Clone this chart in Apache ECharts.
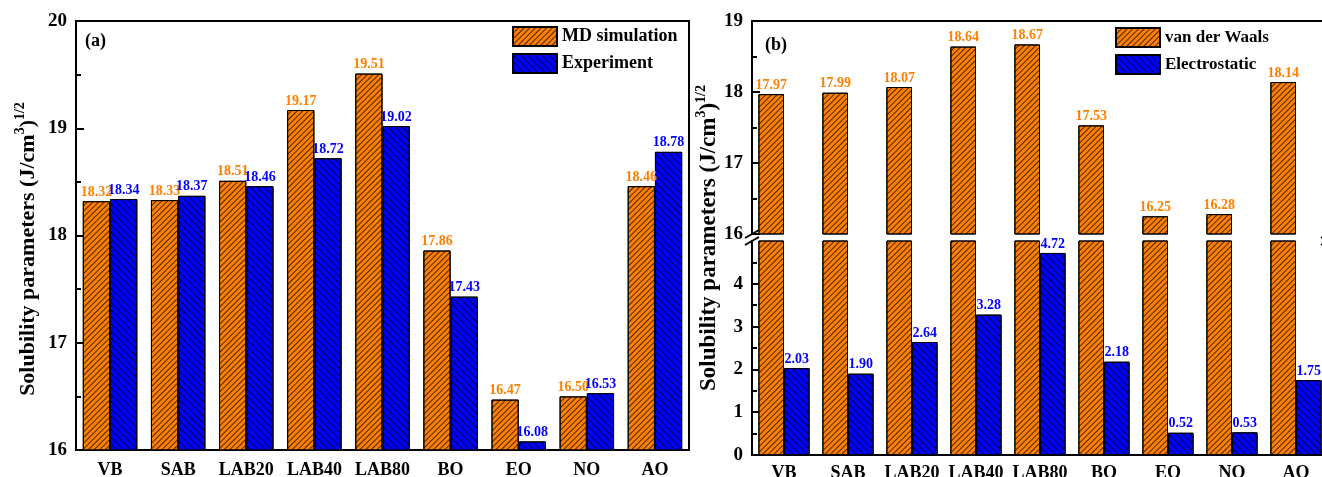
<!DOCTYPE html>
<html><head><meta charset="utf-8">
<script src="https://cdn.jsdelivr.net/npm/echarts@6/dist/echarts.min.js"></script>
<style>html,body{margin:0;padding:0;background:#fff}#c{width:1322px;height:477px}</style>
</head><body><div id="c"></div>
<script>
// ---------- data ----------
const categories = ['VB', 'SAB', 'LAB20', 'LAB40', 'LAB80', 'BO', 'EO', 'NO', 'AO'];
const mdSimulation = [18.32, 18.33, 18.51, 19.17, 19.51, 17.86, 16.47, 16.50, 18.46];
const experiment = [18.34, 18.37, 18.46, 18.72, 19.02, 17.43, 16.08, 16.53, 18.78];
const vanDerWaals = [17.97, 17.99, 18.07, 18.64, 18.67, 17.53, 16.25, 16.28, 18.14];
const electrostatic = [2.03, 1.90, 2.64, 3.28, 4.72, 2.18, 0.52, 0.53, 1.75];
const seriesNamesA = ['MD simulation', 'Experiment'];
const seriesNamesB = ['van der Waals', 'Electrostatic'];
const yRangeA = [16, 20];
const yRangeBTop = [16, 19];
const yRangeBBottom = [0, 5];
const yTickLabelsBBottom = [0, 1, 2, 3, 4];
const panelTitles = ['(a)', '(b)'];
const yName = 'Solubility parameters (J/cm{s|3}){s|1/2}';

// ---------- styles ----------
const FONT = 'Liberation Serif';
const ORANGE = '#FF8000';
const BLUE = '#0000FF';
const decalOrange = {symbol: 'rect', symbolSize: 1, dashArrayX: [1, 0], dashArrayY: [1, 3], rotation: -Math.PI / 4, color: 'rgba(0,0,0,0.7)'};
const decalBlue = {symbol: 'rect', symbolSize: 1, dashArrayX: [1, 0], dashArrayY: [1, 4], rotation: Math.PI / 4, color: 'rgba(0,0,0,0.7)'};
const axisLineStyle = {show: true, onZero: false, lineStyle: {color: '#000', width: 2}};

function nameStyle(size, padRight) {
  return {fontFamily: FONT, fontWeight: 'bold', fontSize: size, color: '#000', lineHeight: 30, padding: [0, padRight, 0, 0],
    rich: {s: {fontFamily: FONT, fontWeight: 'bold', fontSize: Math.round(size * 0.62), color: '#000', lineHeight: 13, verticalAlign: 'top'}}};
}
function valueAxis(gridIndex, range, extra) {
  return Object.assign({
    type: 'value', gridIndex, min: range[0], max: range[1], interval: 1,
    axisLine: axisLineStyle,
    axisTick: {show: true, inside: true, length: 8, lineStyle: {color: '#000', width: 2}},
    minorTick: {show: true, splitNumber: 2, length: 5, lineStyle: {color: '#000', width: 2}},
    splitLine: {show: false},
    axisLabel: {fontFamily: FONT, fontWeight: 'bold', fontSize: 19, color: '#000', margin: 9}
  }, extra || {});
}
function catAxis(gridIndex, margin, extra) {
  return Object.assign({
    type: 'category', gridIndex, data: categories,
    axisLine: axisLineStyle, axisTick: {show: false},
    axisLabel: {interval: 0, fontFamily: FONT, fontWeight: 'bold', fontSize: 18, color: '#000', margin}
  }, extra || {});
}
function bar(name, data, color, decal, axisIdx, showLabel) {
  return {
    type: 'bar', name, data, xAxisIndex: axisIdx, yAxisIndex: axisIdx,
    barGap: '0%', barCategoryGap: '20%', clip: true,
    itemStyle: {color, borderColor: '#000', borderWidth: 1, decal},
    label: {show: showLabel, position: 'top', distance: 2, color, fontFamily: FONT, fontWeight: 'bold', fontSize: 14,
      formatter: p => Number(p.value).toFixed(2)},
    emphasis: {disabled: true}
  };
}
function legendBase(size) {
  return {orient: 'vertical', icon: 'rect', itemWidth: 44, itemHeight: 19, itemGap: 6, align: 'left', padding: 0,
    textStyle: {fontFamily: FONT, fontWeight: 'bold', fontSize: size, color: '#000'}};
}
function grid(left, top, width, height, extra) {
  return Object.assign({left, top, width, height, containLabel: false, outerBoundsMode: 'none'}, extra || {});
}

const chart = echarts.init(document.getElementById('c'), null, {renderer: 'canvas'});
chart.setOption({
  animation: false,
  backgroundColor: '#fff',
  title: [
    {text: panelTitles[0], left: 85, top: 32, padding: 0, textStyle: {fontFamily: FONT, fontWeight: 'bold', fontSize: 18, color: '#000'}},
    {text: panelTitles[1], left: 765, top: 36, padding: 0, textStyle: {fontFamily: FONT, fontWeight: 'bold', fontSize: 18, color: '#000'}}
  ],
  legend: [
    Object.assign({data: seriesNamesA, left: 512, top: 26}, legendBase(18)),
    Object.assign({data: seriesNamesB, left: 1115, top: 27}, legendBase(17))
  ],
  grid: [
    grid(76, 21, 613, 429, {show: true, borderColor: '#000', borderWidth: 2}),
    grid(752, 21, 576, 213),
    grid(752, 241, 576, 214),
    grid(752, 21, 576, 434)
  ],
  xAxis: [
    catAxis(0, 11),
    catAxis(1, 10, {position: 'top', axisLabel: {show: false}}),
    catAxis(2, 9),
    catAxis(3, 10, {show: false})
  ],
  yAxis: [
    valueAxis(0, yRangeA, {name: yName, nameLocation: 'middle', nameGap: 33, nameTextStyle: nameStyle(22, 27)}),
    valueAxis(1, yRangeBTop),
    valueAxis(2, yRangeBBottom, {
      axisLabel: {fontFamily: FONT, fontWeight: 'bold', fontSize: 19, color: '#000', margin: 9, customValues: yTickLabelsBBottom},
      axisTick: {show: true, inside: true, length: 8, lineStyle: {color: '#000', width: 2}, customValues: yTickLabelsBBottom}
    }),
    {type: 'value', gridIndex: 3, min: 0, max: 1, axisLine: {show: false}, axisTick: {show: false},
      axisLabel: {show: false}, splitLine: {show: false},
      name: yName, nameLocation: 'middle', nameGap: 28, nameTextStyle: nameStyle(23, 0)}
  ],
  series: [
    bar(seriesNamesA[0], mdSimulation, ORANGE, decalOrange, 0, true),
    bar(seriesNamesA[1], experiment, BLUE, decalBlue, 0, true),
    bar(seriesNamesB[0], vanDerWaals, ORANGE, decalOrange, 1, true),
    bar(seriesNamesB[1], electrostatic, BLUE, decalBlue, 1, false),
    bar(seriesNamesB[0], vanDerWaals, ORANGE, decalOrange, 2, false),
    bar(seriesNamesB[1], electrostatic, BLUE, decalBlue, 2, true)
  ]
});

// axis-break marks on panel (b), positioned from the axes themselves
const yBreakTop = chart.convertToPixel({yAxisIndex: 1}, yRangeBTop[0]);
const yBreakBottom = chart.convertToPixel({yAxisIndex: 2}, yRangeBBottom[1]);
const rectB = chart.getModel().getComponent('grid', 1).coordinateSystem.getRect();
const marks = [];
[rectB.x, rectB.x + rectB.width].forEach(x => {
  [yBreakTop, yBreakBottom].forEach(y => {
    marks.push({type: 'line', shape: {x1: x - 7, y1: y + 4, x2: x + 7, y2: y - 4}, style: {stroke: '#000', lineWidth: 2}, z: 100});
  });
});
chart.setOption({graphic: marks});
</script></body></html>
